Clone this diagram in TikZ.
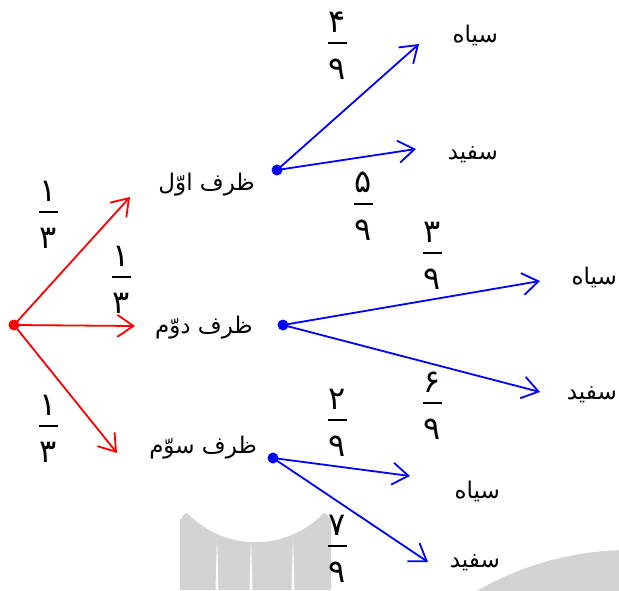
\documentclass[tikz,border=0pt]{standalone}
\usepackage{fontspec}
\newfontfamily\fa[Script=Arabic]{DejaVu Sans}
\TeXXeTstate=1
\usetikzlibrary{arrows.meta,positioning}
\definecolor{wm}{RGB}{211,211,211}
\tikzset{
  lbl/.style={font=\fa\fontsize{23}{26}\selectfont, inner sep=0pt},
  rlbl/.style={lbl, anchor=east},
  dig/.style={font=\fa\fontsize{32}{36}\selectfont, inner sep=0pt},
  fbar/.style={fill=black, minimum width=19pt, minimum height=1.2pt, inner sep=0pt},
  redarr/.style={red, line width=1.8pt, -{Straight Barb[length=16pt,width=22pt]}},
  bluearr/.style={blue, line width=1.8pt, -{Straight Barb[length=16pt,width=22pt]}},
  rdot/.style={circle, fill=red, inner sep=0pt, minimum size=11pt},
  bdot/.style={circle, fill=blue, inner sep=0pt, minimum size=11pt},
}
\newcommand\myfrac[4]{%
  \node[fbar] (#1) at (#2) {};
  \node[dig, above=10pt of #1] (#1n) {#3};
  \node[dig, below=15pt of #1] (#1d) {#4};
}
\begin{document}
\begin{tikzpicture}[x=1pt,y=-1pt]
\useasboundingbox (0,0) rectangle (619,590);
% watermark background
\begin{scope}
\clip (0,0) rectangle (619,590);
\fill[wm] (180,590) -- (180,519) to[out=-90,in=160] (187,513)
  .. controls (225,552) and (286,552) .. (324,513)
  to[out=20,in=-90] (331,519) -- (331,590) -- cycle;
\fill[white] (217,537) -- (215.5,590) -- (218.5,590) -- cycle;
\fill[white] (251,537) -- (249.5,590) -- (252.5,590) -- cycle;
\fill[white] (293,537) -- (291.5,590) -- (294.5,590) -- cycle;
\fill[wm] (630,857) circle[radius=307];
\end{scope}
% root
\node[rdot] (root) at (14,325) {};
\coordinate (t1) at (130,197);
\coordinate (t2) at (135,326);
\coordinate (t3) at (117,453);
\draw[redarr] (root.center) -- (t1);
\draw[redarr] (root.center) -- (t2);
\draw[redarr] (root.center) -- (t3);
\node[rlbl] (z1) at (255,185) {\beginR ظرف اوّل\endR};
\node[rlbl] (z2) at (253,328) {\beginR ظرف دوّم\endR};
\node[rlbl] (z3) at (257,448) {\beginR ظرف سوّم\endR};
\myfrac{fa}{48,212}{۱}{۳}
\myfrac{fb}{121,277}{۱}{۳}
\myfrac{fc}{48,426}{۱}{۳}
% blue dots
\node[bdot] (d1) at (277,170) {};
\node[bdot] (d2) at (283,325) {};
\node[bdot] (d3) at (273,458) {};
\coordinate (u1) at (419,44);
\coordinate (u2) at (416,149);
\coordinate (u3) at (540,281);
\coordinate (u4) at (540,392);
\coordinate (u5) at (410,476);
\coordinate (u6) at (428,562);
\draw[bluearr] (d1.center) -- (u1);
\draw[bluearr] (d1.center) -- (u2);
\draw[bluearr] (d2.center) -- (u3);
\draw[bluearr] (d2.center) -- (u4);
\draw[bluearr] (d3.center) -- (u5);
\draw[bluearr] (d3.center) -- (u6);
\node[rlbl] (s1) at (498,35) {\beginR سیاه\endR};
\node[rlbl] (w1) at (498,155) {\beginR سفید\endR};
\node[rlbl] (s2) at (617,277) {\beginR سیاه\endR};
\node[rlbl] (w2) at (617,395) {\beginR سفید\endR};
\node[rlbl] (s3) at (500,491) {\beginR سیاه\endR};
\node[rlbl] (w3) at (500,563) {\beginR سفید\endR};
\myfrac{fd}{337,43}{۴}{۹}
\myfrac{fe}{363,204}{۵}{۹}
\myfrac{ff}{432,253}{۳}{۹}
\myfrac{fg}{432,403}{۶}{۹}
\myfrac{fh}{337,420}{۲}{۹}
\myfrac{fi}{337,546}{۷}{۹}
\end{tikzpicture}
\end{document}
